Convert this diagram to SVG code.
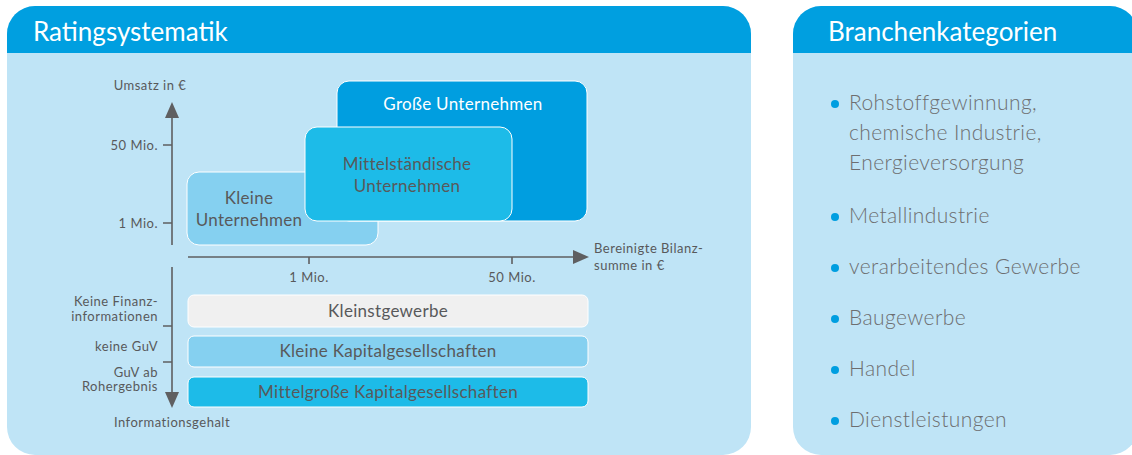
<svg xmlns="http://www.w3.org/2000/svg" width="1132" height="455" viewBox="0 0 1132 455">
<defs>
<style>
text{font-family:Lato,"Open Sans","Liberation Sans",sans-serif;fill:#58595b}
.hd{fill:#fff;font-size:26px}
.ax{font-size:13px;letter-spacing:0.5px}
.bx{font-size:17px;letter-spacing:0.3px;text-anchor:middle}
.br{font-size:17px;letter-spacing:0.3px;text-anchor:middle}
.li{font-size:21px;letter-spacing:0.4px;font-weight:300;fill:#6d6e70}
.rl{text-anchor:end}
.axl{stroke:#5f5f61;stroke-width:1.6;fill:none}
.dot{fill:#009ee0}
</style>
</defs>
<g id="panel-left">
<rect x="7" y="6" width="744" height="449" rx="28" fill="#bfe4f6"/>
<path d="M7 53 V34 A28 28 0 0 1 35 6 H723 A28 28 0 0 1 751 34 V53 Z" fill="#009fe0"/>
<text class="hd" x="33" y="41">Ratingsystematik</text>
</g>
<g id="panel-right">
<rect x="793" y="6" width="345" height="449" rx="28" fill="#bfe4f6"/>
<path d="M793 53 V34 A28 28 0 0 1 821 6 H1110 A28 28 0 0 1 1138 34 V53 Z" fill="#009fe0"/>
<text class="hd" x="828" y="41">Branchenkategorien</text>
</g>
<g id="connectors">
<path class="axl" d="M172 245 V112 M163 145 H172 M163 223 H172"/>
<path d="M172 102 L165 118 H179 Z" fill="#5f5f61"/>
<path class="axl" d="M188 257 H578 M309 257 V264 M512 257 V264"/>
<path d="M589 257 L573 250 V264 Z" fill="#5f5f61"/>
<path class="axl" d="M172 267 V397 M163 326 H172 M163 362 H172"/>
<path d="M172 408 L165 392 H179 Z" fill="#5f5f61"/>
</g>
<g id="axis-labels">
<text class="ax" x="150" y="90" text-anchor="middle">Umsatz in €</text>
<text class="ax rl" x="158" y="150">50 Mio.</text>
<text class="ax rl" x="158" y="228">1 Mio.</text>
<text class="ax" x="309" y="282" text-anchor="middle">1 Mio.</text>
<text class="ax" x="512" y="282" text-anchor="middle">50 Mio.</text>
<text class="ax" x="594" y="253">Bereinigte Bilanz-</text>
<text class="ax" x="594" y="270">summe in €</text>
<text class="ax rl" x="158" y="306">Keine Finanz-</text>
<text class="ax rl" x="158" y="321">informationen</text>
<text class="ax rl" x="158" y="351">keine GuV</text>
<text class="ax rl" x="158" y="377">GuV ab</text>
<text class="ax rl" x="158" y="391">Rohergebnis</text>
<text class="ax" x="172" y="427" text-anchor="middle">Informationsgehalt</text>
</g>
<g id="node-kleine">
<rect x="187" y="172" width="191" height="73" rx="12" fill="#85d0f0" stroke="#fff" stroke-width="1"/>
<text class="bx" x="249" y="204">Kleine</text>
<text class="bx" x="249" y="226">Unternehmen</text>
</g>
<g id="node-grosse">
<rect x="337" y="81" width="250" height="140" rx="12" fill="#009ee0" stroke="#fff" stroke-width="1"/>
<text class="bx" x="463" y="110" style="fill:#fff">Große Unternehmen</text>
</g>
<g id="node-mittel">
<rect x="305" y="127" width="207" height="94" rx="12" fill="#1dbbe8" stroke="#fff" stroke-width="1"/>
<text class="bx" x="407" y="170">Mittelständische</text>
<text class="bx" x="407" y="192">Unternehmen</text>
</g>
<g id="node-kleinstgewerbe">
<rect x="188" y="295" width="400" height="32" rx="6" fill="#f0f0f0" stroke="#fff" stroke-width="1"/>
<text class="br" x="388" y="317">Kleinstgewerbe</text>
</g>
<g id="node-kleine-kap">
<rect x="188" y="336" width="400" height="31" rx="6" fill="#85d0f0" stroke="#fff" stroke-width="1"/>
<text class="br" x="388" y="357">Kleine Kapitalgesellschaften</text>
</g>
<g id="node-mittelgross-kap">
<rect x="188" y="377" width="400" height="30" rx="6" fill="#1dbbe8" stroke="#fff" stroke-width="1"/>
<text class="br" x="388" y="398">Mittelgroße Kapitalgesellschaften</text>
</g>
<g id="list">
<circle class="dot" cx="835" cy="104" r="4"/>
<text class="li" x="849" y="110">Rohstoffgewinnung,</text>
<text class="li" x="849" y="140">chemische Industrie,</text>
<text class="li" x="849" y="170">Energieversorgung</text>
<circle class="dot" cx="835" cy="217" r="4"/>
<text class="li" x="849" y="223">Metallindustrie</text>
<circle class="dot" cx="835" cy="268" r="4"/>
<text class="li" x="849" y="274">verarbeitendes Gewerbe</text>
<circle class="dot" cx="835" cy="319" r="4"/>
<text class="li" x="849" y="325">Baugewerbe</text>
<circle class="dot" cx="835" cy="370" r="4"/>
<text class="li" x="849" y="376">Handel</text>
<circle class="dot" cx="835" cy="421" r="4"/>
<text class="li" x="849" y="427">Dienstleistungen</text>
</g>
</svg>
